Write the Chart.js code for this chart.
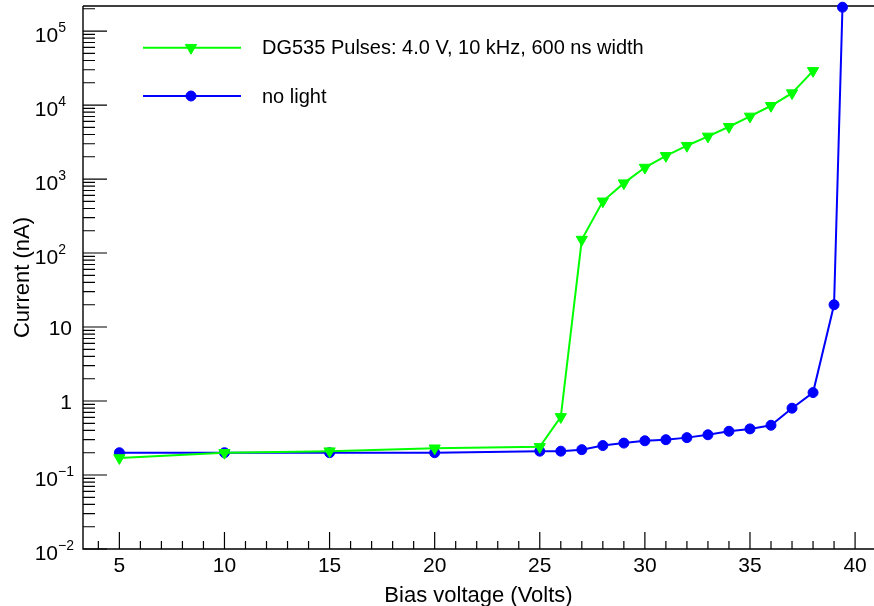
<!DOCTYPE html>
<html>
<head>
<meta charset="utf-8">
<script src="https://cdn.jsdelivr.net/npm/chart.js@4/dist/chart.umd.min.js"></script>
<style>
    html, body { margin: 0; padding: 0; background: #fff; overflow: hidden; }
    canvas { display: block; }
</style>
</head>
<body>
<canvas id="graph" width="874" height="606" style="width:874px;height:606px"></canvas>
<script>
// bias scan, pulsed light vs dark
let pulseVolts = [5, 10, 15, 20, 25, 26, 27, 28, 29, 30, 31, 32, 33, 34, 35, 36, 37, 38]
let pulseCurrent = [0.17, 0.2, 0.21, 0.23, 0.24, 0.61, 152, 500, 880, 1430, 2060, 2820, 3770, 5090, 7020, 9780, 14500, 29000]
let darkVolts = [5, 10, 15, 20, 25, 26, 27, 28, 29, 30, 31, 32, 33, 34, 35, 36, 37, 38, 39, 39.4]
let darkCurrent = [0.2, 0.2, 0.2, 0.2, 0.21, 0.21, 0.22, 0.25, 0.27, 0.29, 0.3, 0.32, 0.35, 0.39, 0.42, 0.47, 0.8, 1.3, 20, 210000]

let seriesNames = ['DG535 Pulses: 4.0 V, 10 kHz, 600 ns width', 'no light']
let xTickLabels = ['5', '10', '15', '20', '25', '30', '35', '40']
let yTickValues = [0.01, 0.1, 1, 10, 100, 1000, 10000, 100000]
let yTickLabels = ['10^-2', '10^-1', '1', '10', '10^2', '10^3', '10^4', '10^5']

const FONT = '"Liberation Sans", Arial, Helvetica, sans-serif'

// ROOT-like frame: inward ticks, exponent labels, plain legend
const rootFrame = {
    id: 'rootFrame',
    beforeDatasetsDraw(chart) {
        let ctx = chart.ctx
        let area = chart.chartArea
        let x = chart.scales.x
        let y = chart.scales.y
        ctx.save()
        ctx.strokeStyle = '#000'
        ctx.lineWidth = 1.4
        ctx.beginPath()
        ctx.moveTo(area.left, area.top)
        ctx.lineTo(area.right, area.top)
        ctx.moveTo(area.left, area.top)
        ctx.lineTo(area.left, area.bottom)
        ctx.lineTo(area.right, area.bottom)
        ctx.stroke()

        ctx.lineWidth = 1.2
        ctx.beginPath()
        // x ticks every volt, long ones every 5
        for (let v = Math.ceil(x.min); v <= x.max; v++) {
            let px = x.getPixelForValue(v)
            let len = v % 5 === 0 ? 17 : 8
            ctx.moveTo(px, area.bottom)
            ctx.lineTo(px, area.bottom - len)
        }
        // y ticks, decades plus 2..9
        for (let d = -2; d <= 5; d++) {
            for (let m = 1; m <= 9; m++) {
                let v = m * Math.pow(10, d)
                if (v < y.min || v > y.max) continue
                let py = y.getPixelForValue(v)
                let len = m === 1 ? 24 : 12
                ctx.moveTo(area.left, py)
                ctx.lineTo(area.left + len, py)
            }
        }
        ctx.stroke()

        ctx.fillStyle = '#000'
        ctx.font = '21px ' + FONT
        ctx.textAlign = 'center'
        ctx.textBaseline = 'alphabetic'
        for (let lbl of xTickLabels) {
            ctx.fillText(lbl, x.getPixelForValue(Number(lbl)), 572)
        }

        yTickValues.forEach((v, i) => {
            let py = y.getPixelForValue(v)
            let parts = yTickLabels[i].split('^')
            if (parts.length === 1) {
                ctx.font = '21px ' + FONT
                ctx.textAlign = 'right'
                ctx.fillText(parts[0], 72, py + 8)
            } else {
                let sup = parts[1].replace('-', '\u2212')
                ctx.font = '14px ' + FONT
                let supW = ctx.measureText(sup).width
                let right = sup.startsWith('\u2212') ? 74 : 66
                ctx.textAlign = 'left'
                ctx.fillText(sup, right - supW, py + 1)
                ctx.font = '21px ' + FONT
                ctx.textAlign = 'right'
                ctx.fillText(parts[0], right - supW, py + 10.5)
            }
        })

        // axis titles
        ctx.font = '22px ' + FONT
        ctx.textAlign = 'center'
        ctx.fillText('Bias voltage (Volts)', (area.left + area.right) / 2, 602)
        ctx.translate(29, (area.top + area.bottom) / 2)
        ctx.rotate(-Math.PI / 2)
        ctx.fillText('Current (nA)', 0, 0)
        ctx.restore()
    },
    afterDraw(chart) {
        let ctx = chart.ctx
        ctx.save()
        let rows = [47.7, 96]
        chart.data.datasets.forEach((ds, i) => {
            let ly = rows[i]
            ctx.strokeStyle = ds.borderColor
            ctx.lineWidth = ds.borderWidth
            ctx.beginPath()
            ctx.moveTo(143, ly)
            ctx.lineTo(241, ly)
            ctx.stroke()
            ctx.fillStyle = ds.pointBackgroundColor
            ctx.strokeStyle = ds.pointBorderColor
            ctx.lineWidth = ds.pointBorderWidth
            Chart.helpers.drawPoint(ctx, {
                pointStyle: ds.pointStyle,
                radius: ds.pointRadius,
                rotation: ds.pointRotation,
                borderWidth: ds.pointBorderWidth
            }, 191, ly)
            ctx.fillStyle = '#000'
            ctx.font = '20px ' + FONT
            ctx.textAlign = 'left'
            ctx.textBaseline = 'middle'
            ctx.fillText(seriesNames[i], 262, ly + 1)
        })
        ctx.restore()
    }
}

let green = 'rgb(0,255,0)'
let blue = 'rgb(0,0,255)'

let ctx = document.getElementById('graph')
let chart = new Chart(ctx, {
    type: 'line',
    data: {
        datasets: [{
            label: seriesNames[0],
            data: pulseVolts.map((v, i) => ({x: v, y: pulseCurrent[i]})),
            borderColor: green,
            borderWidth: 2,
            pointStyle: 'triangle',
            pointRotation: 180,
            pointRadius: 6.5,
            pointBackgroundColor: green,
            pointBorderColor: green,
            pointBorderWidth: 1,
            tension: 0,
            clip: false
        }, {
            label: seriesNames[1],
            data: darkVolts.map((v, i) => ({x: v, y: darkCurrent[i]})),
            borderColor: blue,
            borderWidth: 2,
            pointStyle: 'circle',
            pointRadius: 5,
            pointBackgroundColor: blue,
            pointBorderColor: blue,
            pointBorderWidth: 1,
            tension: 0,
            clip: false
        }]
    },
    options: {
        responsive: false,
        animation: false,
        devicePixelRatio: 1,
        layout: {
            autoPadding: false,
            padding: {left: 83, top: 6, right: 0, bottom: 57}
        },
        scales: {
            x: {
                type: 'linear',
                min: 3.27,
                max: 40.9,
                display: false
            },
            y: {
                type: 'logarithmic',
                min: 0.01,
                max: 218000,
                display: false
            }
        },
        plugins: {
            legend: {display: false},
            tooltip: {enabled: false}
        },
        events: []
    },
    plugins: [rootFrame]
})
</script>
</body>
</html>
